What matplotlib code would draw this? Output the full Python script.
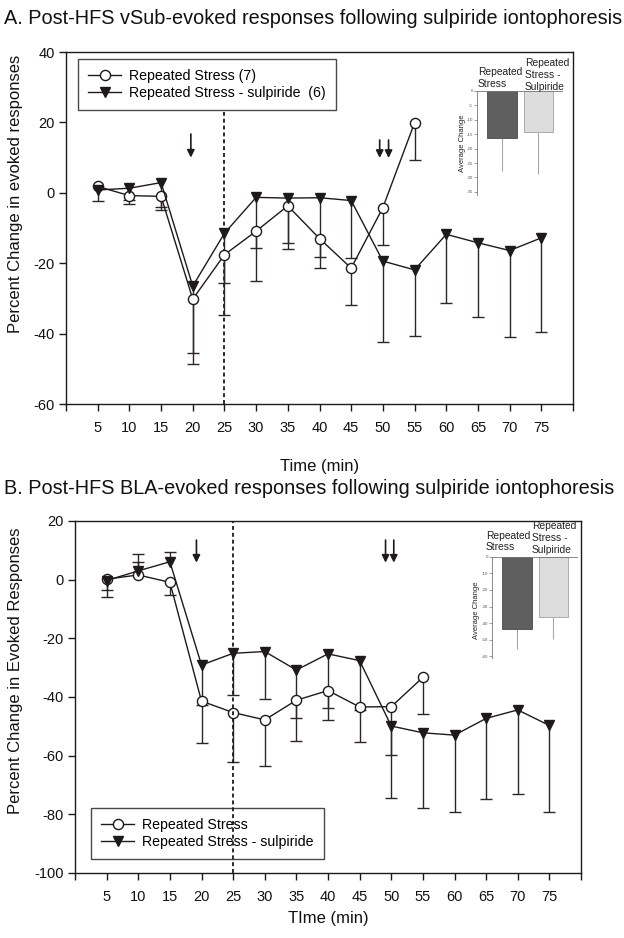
import matplotlib
matplotlib.use("Agg")
import matplotlib.pyplot as plt
from matplotlib.lines import Line2D
import numpy as np

plt.rcParams['font.family'] = ['Liberation Sans', 'DejaVu Sans']
plt.rcParams['axes.unicode_minus'] = False

# ---------------- data ----------------
time_rs = [5, 10, 15, 20, 25, 30, 35, 40, 45, 50, 55]
time_sul = [5, 10, 15, 20, 25, 30, 35, 40, 45, 50, 55, 60, 65, 70, 75]
xtick_vals = list(range(0, 81, 5))
xtick_labels = [''] + [str(v) for v in range(5, 76, 5)] + ['']

# Panel A (vSub)
A_rs = [1.8, -0.8, -1.0, -30.2, -17.6, -10.9, -3.7, -13.0, -21.4, -4.2, 19.9]
A_rs_lo = [0.0, 1.2, 3.0, 18.5, 17.0, 14.1, 12.4, 8.5, 10.6, 10.6, 10.6]
A_rs_hi = [0] * 11
A_sul = [0.8, 1.3, 2.9, -26.5, -11.5, -1.3, -1.5, -1.4, -2.2, -19.4, -21.9, -11.8, -14.2, -16.4, -12.8]
A_sul_lo = [3.1, 4.5, 7.9, 19.1, 14.0, 14.5, 12.9, 16.7, 16.3, 22.9, 18.7, 19.6, 21.2, 24.6, 26.8]
A_sul_hi = [0] * 15
A_inset_vals = [-16.4, -14.1]
A_inset_err = [11.5, 14.7]
A_inset_ticks = [0, -5, -10, -15, -20, -25, -30, -35]

# Panel B (BLA)
B_rs = [0.2, 1.6, -0.9, -41.4, -45.3, -47.8, -41.1, -37.8, -43.4, -43.3, -33.3]
B_rs_lo = [3.7, 0.0, 4.3, 14.4, 16.7, 15.7, 13.8, 10.0, 12.1, 16.5, 12.6]
B_rs_hi = [0.0, 4.5, 0, 0, 0, 0, 0, 0, 0, 0, 0]
B_sul = [-0.3, 3.0, 6.1, -29.1, -25.1, -24.5, -30.8, -25.3, -27.6, -49.9, -52.2, -53.0, -47.3, -44.4, -49.7]
B_sul_lo = [5.6, 0.0, 0.0, 13.6, 14.2, 16.2, 16.3, 18.3, 16.8, 24.4, 25.8, 26.1, 27.5, 28.8, 29.5]
B_sul_hi = [0.0, 5.6, 3.4, 0, 0, 0, 0, 0, 0, 0, 0, 0, 0, 0, 0]
B_inset_vals = [-43.5, -36.6]
B_inset_err = [12.2, 12.8]
B_inset_ticks = [0, -10, -20, -30, -40, -50, -60]

W, H = 624, 938
fig = plt.figure(figsize=(W / 100, H / 100), dpi=100)
fig.patch.set_facecolor('white')

LC = '#1e1a1a'
EC = '#2e2626'
TC = '#111111'


def fx(px):
    return px / W


def fy(py):
    return 1 - py / H


def draw_err(ax, t, y, lo, hi):
    t = np.asarray(t, float)
    y = np.asarray(y, float)
    lo = np.asarray(lo, float)
    hi = np.asarray(hi, float)
    for arr, sign in ((lo, -1), (hi, 1)):
        m = arr > 0
        ends = y[m] + sign * arr[m]
        ax.vlines(t[m], y[m], ends, colors=EC, lw=1.0, zorder=2)
        ax.plot(t[m], ends, ls='none', marker='_', ms=8.5, mew=1.0, color=EC, zorder=2)


def main_panel(ax, rs, rs_lo, rs_hi, sul, sul_lo, sul_hi, ylim, yticks):
    draw_err(ax, time_rs, rs, rs_lo, rs_hi)
    draw_err(ax, time_sul, sul, sul_lo, sul_hi)
    ax.plot(time_rs, rs, color=LC, lw=1.0, marker='o', ms=7.3, mfc='white',
            mec=LC, mew=1.0, zorder=4)
    ax.plot(time_sul, sul, color=LC, lw=1.0, marker='v', ms=7.8, mfc=LC,
            mec=LC, zorder=4)
    ax.set_xlim(0, 80)
    ax.set_ylim(*ylim)
    ax.set_xticks(xtick_vals)
    ax.set_xticklabels(xtick_labels)
    ax.set_yticks(yticks)
    ax.tick_params(direction='out', length=5, width=1.0, labelsize=10.5,
                   color=LC, labelcolor=TC)
    ax.tick_params(axis='x', pad=7)
    ax.tick_params(axis='y', pad=3)
    for s in ax.spines.values():
        s.set_linewidth(1.0)
        s.set_color(LC)


def arrow(ax, x, y0, y1):
    ax.annotate('', xy=(x, y1), xytext=(x, y0),
                arrowprops=dict(arrowstyle='-|>', color=LC, lw=1.2,
                                mutation_scale=11, shrinkA=0, shrinkB=0),
                zorder=5)


def inset(rect, vals, errs, ticks, ylim):
    ia = fig.add_axes(rect)
    ia.bar([0, 1], vals, width=0.82, color=['#5f5f5f', '#dddddd'],
           edgecolor=['#4a4a4a', '#a0a0a0'], linewidth=0.6, zorder=2)
    ia.vlines([0, 1], vals, np.asarray(vals) - np.asarray(errs), colors='#a8a8a8',
              lw=0.8, zorder=1)
    ia.set_xlim(-0.685, 1.644)
    ia.set_ylim(*ylim)
    ia.set_yticks(ticks)
    ia.set_yticklabels([str(t) for t in ticks])
    ia.set_xticks([])
    ia.tick_params(axis='y', direction='out', length=2, width=0.5,
                   labelsize=3.2, pad=1, color='#777777', labelcolor='#555555')
    for k in ('right', 'bottom'):
        ia.spines[k].set_visible(False)
    ia.spines['left'].set_color('#777777')
    ia.spines['left'].set_linewidth(0.6)
    ia.spines['top'].set_color('#777777')
    ia.spines['top'].set_linewidth(0.6)
    ia.patch.set_alpha(0)
    return ia


def inset_text(x1, ys1, x2, ys2, ylab_x, ylab_y):
    for txt, yy in zip(['Repeated', 'Stress'], ys1):
        fig.text(fx(x1), fy(yy), txt, fontsize=7.4, ha='left', va='center', color='#222222')
    for txt, yy in zip(['Repeated', 'Stress -', 'Sulpiride'], ys2):
        fig.text(fx(x2), fy(yy), txt, fontsize=7.4, ha='left', va='center', color='#222222')
    fig.text(fx(ylab_x), fy(ylab_y), 'Average Change', fontsize=5.5, rotation=90,
             ha='center', va='center', color='#222222')


def legend(ax, labels, anchor, loc, z):
    h = [Line2D([], [], color=LC, lw=1.0, marker='o', ms=7.3, mfc='white', mec=LC),
         Line2D([], [], color=LC, lw=1.0, marker='v', ms=7.8, mfc=LC, mec=LC)]
    leg = ax.legend(h, labels, loc=loc, bbox_to_anchor=anchor, borderaxespad=0,
                    fontsize=10.2, frameon=True, fancybox=False, edgecolor=LC,
                    handlelength=2.3, handletextpad=0.6, borderpad=0.72,
                    labelspacing=0.17)
    leg.get_frame().set_linewidth(1.0)
    leg.set_zorder(z)
    return leg


# ---------------- Panel A ----------------
axA = fig.add_axes([fx(66), fy(404), fx(573) - fx(66), fy(52) - fy(404)])
main_panel(axA, A_rs, A_rs_lo, A_rs_hi, A_sul, A_sul_lo, A_sul_hi, (-60, 40),
           [-60, -40, -20, 0, 20, 40])
axA.axvline(25, ymin=0, ymax=0.83, color=LC, lw=1.3, ls=(0, (2.2, 1.6)), zorder=1)
arrow(axA, 19.7, 16.7, 10.0)
arrow(axA, 49.5, 15.0, 9.9)
arrow(axA, 50.9, 15.0, 9.9)
legend(axA, ['Repeated Stress (7)', 'Repeated Stress - sulpiride  (6)'],
       (0.024, 0.98), 'upper left', 6)

inset([fx(477), fy(195), fx(562) - fx(477), fy(91) - fy(195)],
      A_inset_vals, A_inset_err, A_inset_ticks, (-36.1, 0))
inset_text(478, [72, 84], 525, [63, 75, 87], 463, 143)

fig.text(fx(4), fy(18), 'A. Post-HFS vSub-evoked responses following sulpiride iontophoresis',
         fontsize=14.3, ha='left', va='center', color=TC)
fig.text(fx(16), fy(194), 'Percent Change in evoked responses', fontsize=12,
         rotation=90, ha='center', va='center', color=TC)
fig.text(fx(320), fy(466), 'Time (min)', fontsize=12, ha='center', va='center', color=TC)

# ---------------- Panel B ----------------
axB = fig.add_axes([fx(75), fy(873), fx(581) - fx(75), fy(521) - fy(873)])
main_panel(axB, B_rs, B_rs_lo, B_rs_hi, B_sul, B_sul_lo, B_sul_hi, (-100, 20),
           [-100, -80, -60, -40, -20, 0, 20])
arrow(axB, 19.2, 13.5, 5.8)
arrow(axB, 49.1, 13.5, 5.8)
arrow(axB, 50.4, 13.5, 5.8)
legend(axB, ['Repeated Stress', 'Repeated Stress - sulpiride'],
       (0.032, 0.04), 'lower left', 3)
axB.axvline(25, color=LC, lw=1.3, ls=(0, (2.2, 1.6)), zorder=7)

inset([fx(492), fy(658), fx(577) - fx(492), fy(556.7) - fy(658)],
      B_inset_vals, B_inset_err, B_inset_ticks, (-61, 0))
inset_text(486, [536, 547], 532, [526, 538, 550], 476, 610)

fig.text(fx(4), fy(488), 'B. Post-HFS BLA-evoked responses following sulpiride iontophoresis',
         fontsize=14.3, ha='left', va='center', color=TC)
fig.text(fx(16), fy(671), 'Percent Change in Evoked Responses', fontsize=12,
         rotation=90, ha='center', va='center', color=TC)
fig.text(fx(328), fy(918), 'TIme (min)', fontsize=12, ha='center', va='center', color=TC)

fig.savefig('out.png', dpi=100, facecolor='white')
